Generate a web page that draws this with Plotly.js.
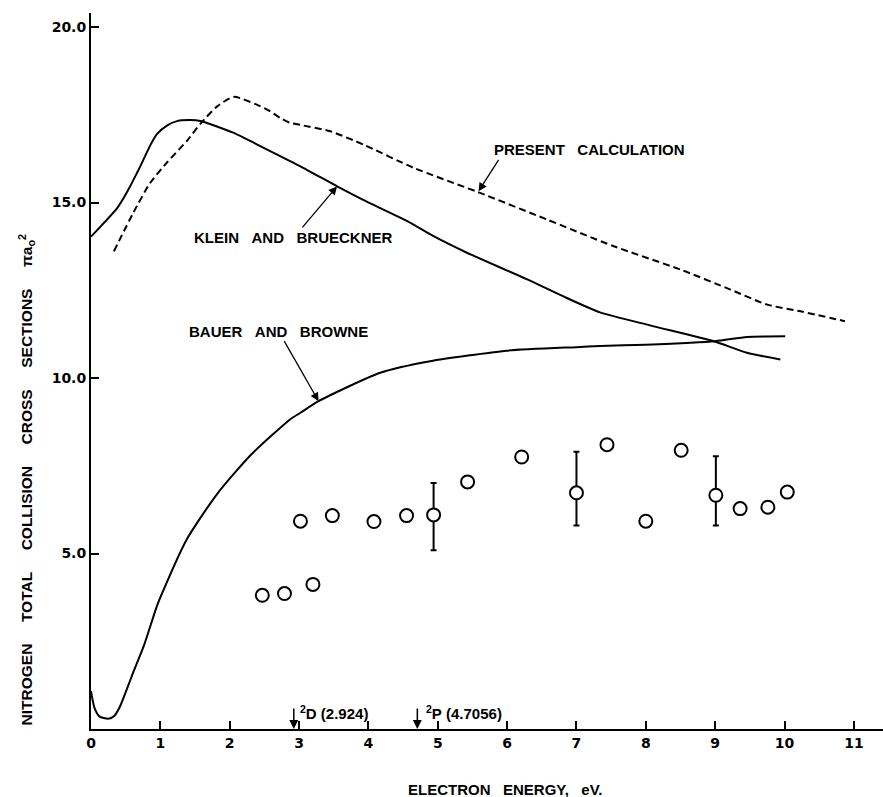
<!DOCTYPE html>
<html>
<head>
<meta charset="utf-8">
<script src="https://cdn.plot.ly/plotly-3.0.1.min.js"></script>
<style>html,body{margin:0;padding:0;background:#fff;}#chart{width:883px;height:797px;}</style>
</head>
<body>
<div id="chart"></div>
<script>
// Klein and Brueckner (solid)
const kbX = [0.00, 0.13, 0.38, 0.52, 0.71, 0.86, 0.95, 1.10, 1.24, 1.43, 1.58, 2.05, 2.54, 3.02, 3.55, 3.91, 4.56, 4.94, 5.42, 6.29, 6.86, 7.34, 8.06, 8.98, 9.46, 9.94];
const kbY = [14.03, 14.30, 14.85, 15.30, 16.03, 16.65, 16.95, 17.20, 17.32, 17.35, 17.32, 16.99, 16.51, 16.03, 15.46, 15.09, 14.47, 14.04, 13.57, 12.81, 12.28, 11.87, 11.50, 11.05, 10.72, 10.53];

// Bauer and Browne (solid)
const bbX = [0.00, 0.05, 0.12, 0.25, 0.33, 0.42, 0.52, 0.61, 0.76, 0.95, 1.00, 1.38, 1.82, 2.30, 2.87, 3.02, 3.28, 4.17, 4.89, 6.00, 7.00, 7.34, 8.00, 9.00, 9.46, 10.01];
const bbY = [1.08, 0.60, 0.36, 0.29, 0.36, 0.65, 1.15, 1.62, 2.36, 3.50, 3.75, 5.40, 6.70, 7.80, 8.82, 9.01, 9.34, 10.15, 10.48, 10.78, 10.88, 10.91, 10.95, 11.05, 11.17, 11.19];

// Present calculation (dashed)
const pcX = [0.33, 0.61, 0.85, 1.10, 1.38, 1.58, 1.82, 2.06, 2.54, 2.73, 2.87, 3.02, 3.45, 3.93, 4.65, 5.59, 6.57, 7.53, 8.50, 9.22, 9.75, 10.23, 10.87];
const pcY = [13.61, 14.71, 15.55, 16.15, 16.75, 17.25, 17.74, 18.01, 17.65, 17.41, 17.27, 17.21, 17.03, 16.65, 15.99, 15.29, 14.52, 13.76, 13.09, 12.52, 12.09, 11.90, 11.62];

// Experimental points
const expX = [2.47, 2.79, 3.02, 3.20, 3.48, 4.08, 4.55, 4.94, 5.43, 6.21, 7.00, 7.44, 8.00, 8.51, 9.01, 9.36, 9.76, 10.04];
const expY = [3.81, 3.86, 5.92, 4.12, 6.08, 5.91, 6.08, 6.10, 7.04, 7.75, 6.73, 8.10, 5.92, 7.94, 6.66, 6.28, 6.32, 6.75];
const expErrPlus  = [null, null, null, null, null, null, null, 0.91, null, null, 1.17, null, null, null, 1.11, null, null, null];
const expErrMinus = [null, null, null, null, null, null, null, 1.01, null, null, 0.93, null, null, null, 0.86, null, null, null];

// Ticks
const xTickVals = [0, 1, 2, 3, 4, 5, 6, 7, 8, 9, 10, 11];
const xTickText = ['0', '1', '2', '3', '4', '5', '6', '7', '8', '9', '10', '11'];
const yTickVals = [5, 10, 15, 20];
const yTickText = ['5.0', '10.0', '15.0', '20.0'];

// Thresholds marked on the energy axis
const thresholdX = [2.924, 4.7056];
const thresholdText = ['<sup>2</sup>D\u00A0(2.924)', '<sup>2</sup>P\u00A0(4.7056)'];

// Curve labels
const NB = '\u00A0\u00A0\u00A0';
const labelKB = 'KLEIN' + NB + 'AND' + NB + 'BRUECKNER';
const labelBB = 'BAUER' + NB + 'AND' + NB + 'BROWNE';
const labelPC = 'PRESENT' + NB + 'CALCULATION';
const xTitle = 'ELECTRON' + NB + 'ENERGY,' + NB + 'eV.';
const S5 = '\u00A0\u00A0\u00A0\u00A0\u00A0';
const yTitle = 'NITROGEN' + S5 + 'TOTAL' + S5 + 'COLLISION' + S5 + 'CROSS' + S5 + 'SECTIONS' + S5 + '\u03C0a<sub>o</sub><sup>2</sup>';

const FONT = 'Liberation Sans, Arial, sans-serif';
const TICKFONT = 'DejaVu Sans, sans-serif';
const lblFont = {family: FONT, size: 15, color: '#000', weight: 'bold'};

const traces = [
  {x: kbX, y: kbY, mode: 'lines', line: {color: '#000', width: 2, shape: 'spline', smoothing: 0.6}, hoverinfo: 'skip', name: 'Klein and Brueckner'},
  {x: bbX, y: bbY, mode: 'lines', line: {color: '#000', width: 2, shape: 'spline', smoothing: 0.6}, hoverinfo: 'skip', name: 'Bauer and Browne'},
  {x: pcX, y: pcY, mode: 'lines', line: {color: '#000', width: 2, dash: '7px,4px', shape: 'spline', smoothing: 0.6}, hoverinfo: 'skip', name: 'Present calculation'},
  {x: expX, y: expY, mode: 'markers', cliponaxis: false,
   marker: {symbol: 'circle', size: 13, color: '#fff', line: {color: '#000', width: 2}},
   error_y: {type: 'data', symmetric: false, array: expErrPlus, arrayminus: expErrMinus, color: '#000', thickness: 2, width: 3},
   name: 'Experiment'}
];

const annotations = [
  {x: 3.547, y: 15.46, xref: 'x', yref: 'y', text: labelKB, showarrow: true, ax: -43, ay: 51, arrowhead: 2, arrowsize: 1.3, arrowwidth: 1.3, arrowcolor: '#000', standoff: 0, font: lblFont},
  {x: 3.281, y: 9.34, xref: 'x', yref: 'y', text: labelBB, showarrow: true, ax: -40, ay: -70, arrowhead: 2, arrowsize: 1.3, arrowwidth: 1.3, arrowcolor: '#000', standoff: 0, font: lblFont},
  {x: 5.78, y: 16.51, xref: 'x', yref: 'y', text: labelPC, showarrow: false, xanchor: 'left', yanchor: 'middle', font: lblFont},
  {x: 5.588, y: 15.32, xref: 'x', yref: 'y', text: '', showarrow: true, ax: 21, ay: -33, arrowhead: 2, arrowsize: 1.3, arrowwidth: 1.3, arrowcolor: '#000', standoff: 0},
  {x: thresholdX[0], y: 0, xref: 'x', yref: 'y', text: '', showarrow: true, ax: 0, ay: -22, arrowhead: 2, arrowsize: 1.2, arrowwidth: 1.5, arrowcolor: '#000', standoff: 0},
  {x: thresholdX[1], y: 0, xref: 'x', yref: 'y', text: '', showarrow: true, ax: 0, ay: -22, arrowhead: 2, arrowsize: 1.2, arrowwidth: 1.5, arrowcolor: '#000', standoff: 0},
  {x: thresholdX[0] + 0.06, y: 0.47, xref: 'x', yref: 'y', text: thresholdText[0], showarrow: false, xanchor: 'left', yanchor: 'middle', font: lblFont},
  {x: thresholdX[1] + 0.09, y: 0.47, xref: 'x', yref: 'y', text: thresholdText[1], showarrow: false, xanchor: 'left', yanchor: 'middle', font: lblFont},
  {x: 5.973, y: -0.0845, xref: 'x', yref: 'paper', text: xTitle, showarrow: false, xanchor: 'center', yanchor: 'middle', font: lblFont},
  {x: -0.0808, y: 7.11, xref: 'paper', yref: 'y', text: yTitle, showarrow: false, textangle: -90, xanchor: 'center', yanchor: 'middle', font: {family: FONT, size: 15.5, color: '#000', weight: 'bold'}}
];

const layout = {
  width: 883, height: 797,
  margin: {l: 91, r: 0, t: 13, b: 68, pad: 0},
  paper_bgcolor: '#fff', plot_bgcolor: '#fff',
  showlegend: false,
  xaxis: {range: [0, 11.42], showgrid: false, zeroline: false, showline: true, linecolor: '#000', linewidth: 2,
          ticks: 'inside', ticklen: 8, tickwidth: 2, tickcolor: '#000',
          tickvals: xTickVals, ticktext: xTickText, tickfont: {family: TICKFONT, size: 14, color: '#000', weight: 'bold'}},
  yaxis: {range: [0, 20.4], showgrid: false, zeroline: false, showline: true, linecolor: '#000', linewidth: 2,
          ticks: 'inside', ticklen: 8, tickwidth: 2, tickcolor: '#000',
          tickvals: yTickVals, ticktext: yTickText, tickfont: {family: TICKFONT, size: 14, color: '#000', weight: 'bold'}},
  annotations: annotations
};

Plotly.newPlot('chart', traces, layout, {staticPlot: true, displayModeBar: false});
</script>
</body>
</html>
